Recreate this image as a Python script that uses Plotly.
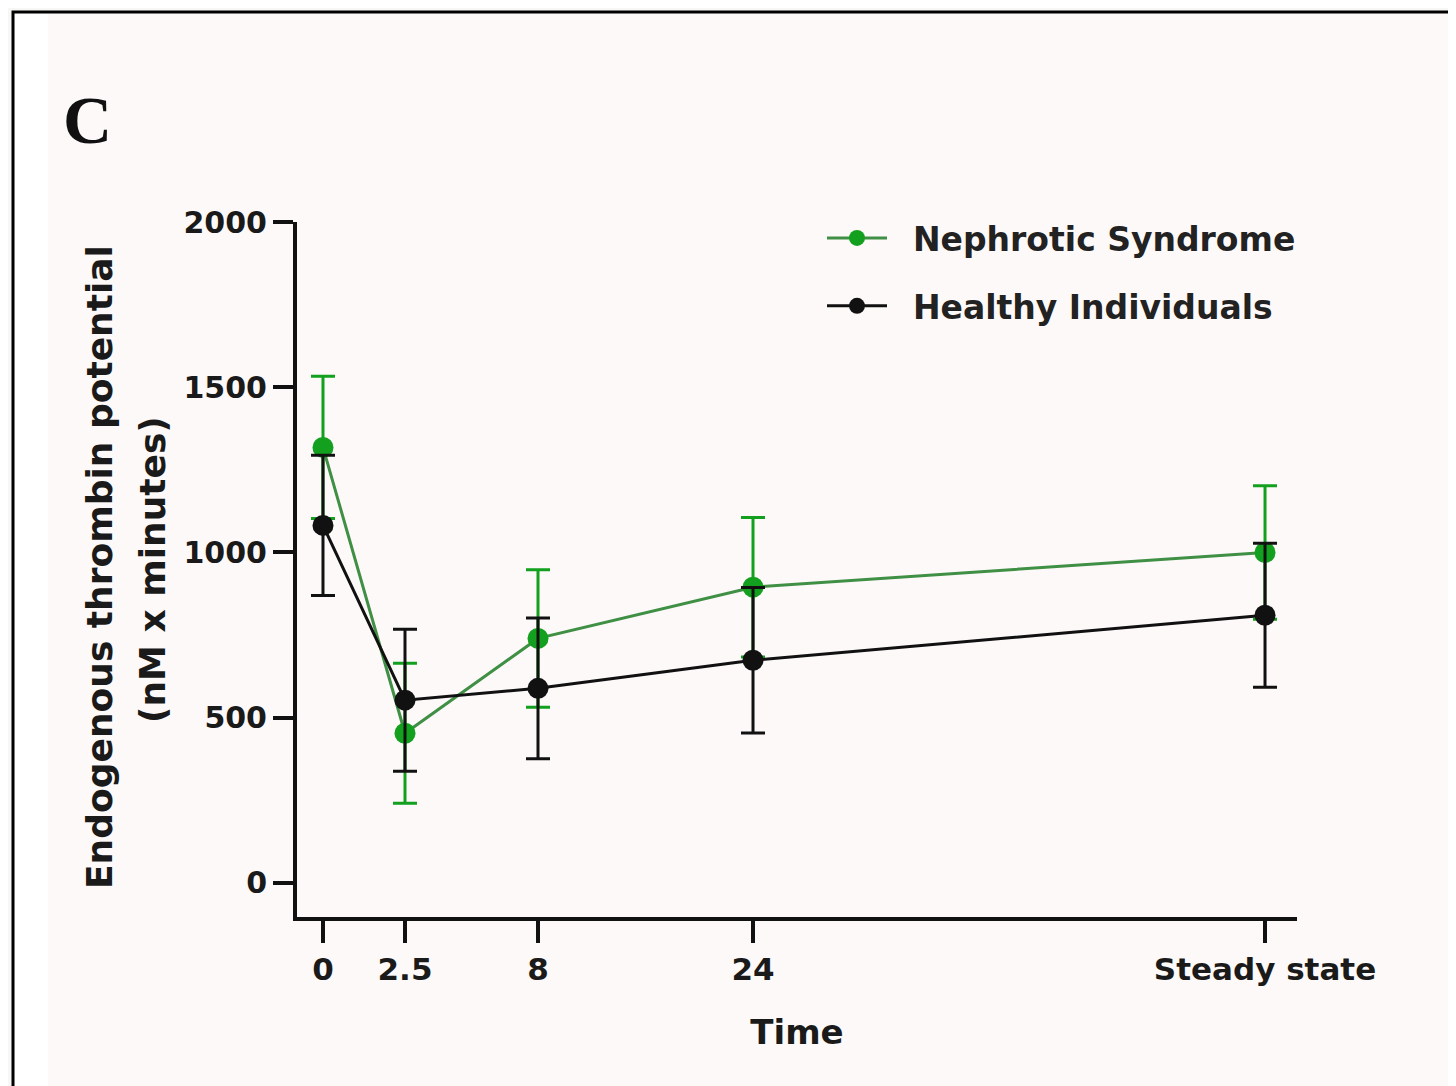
import plotly.graph_objects as go

# ---- data ----
time_labels = ["0", "2.5", "8", "24", "Steady state"]
time_axis_pos = [0, 1, 2.622, 5.244, 11.488]   # uneven spacing of the original x axis
ns_mean = [1318, 453, 740, 895, 1000]
ns_err = [215, 212, 208, 211, 202]
hi_mean = [1082, 553, 589, 674, 810]
hi_err = [212, 215, 213, 220, 218]
y_ticks = [0, 500, 1000, 1500, 2000]

GREEN = "#12a01e"
GREEN_LINE = "#3f8f45"
BLACK = "#111111"
FONT = "DejaVu Sans"

fig = go.Figure()
fig.add_trace(go.Scatter(
    x=time_axis_pos, y=ns_mean, name="&nbsp;&nbsp;<b>Nephrotic Syndrome</b>", legendgroup="ns",
    mode="lines+markers",
    line=dict(color=GREEN_LINE, width=3),
    marker=dict(symbol="circle", size=21, color=GREEN),
    error_y=dict(type="data", array=ns_err, visible=True, color=GREEN, thickness=3, width=12),
))
fig.add_trace(go.Scatter(
    x=time_axis_pos, y=hi_mean, name="&nbsp;&nbsp;<b>Healthy Individuals</b>", legendgroup="hi",
    mode="lines+markers",
    line=dict(color=BLACK, width=3),
    marker=dict(symbol="circle", size=21, color=BLACK),
    error_y=dict(type="data", array=hi_err, visible=True, color=BLACK, thickness=3, width=12),
))

def px_x(px):
    return (px - 297) / 1000.0

def px_y(py):
    return (917 - py) / 695.0

shapes = [
    dict(type="rect", xref="paper", yref="paper", layer="below",
         x0=px_x(13), x1=px_x(1520), y0=px_y(1120), y1=px_y(12),
         fillcolor="#fdf9f8", line=dict(color="black", width=3)),
    dict(type="rect", xref="paper", yref="paper", layer="below",
         x0=px_x(15), x1=px_x(48), y0=px_y(1120), y1=px_y(14),
         fillcolor="#ffffff", line=dict(width=0)),
]

annotations = [
    dict(text="<b>C</b>", xref="paper", yref="paper", x=px_x(87), y=px_y(120),
         showarrow=False, font=dict(family="Liberation Serif", size=68, color="#111"),
         xanchor="center", yanchor="middle"),
    dict(text="<b>Endogenous thrombin potential</b>", xref="paper", yref="paper",
         x=px_x(99), y=px_y(567), textangle=-90, showarrow=False,
         font=dict(family=FONT, size=36, color="#1a1a1a"),
         xanchor="center", yanchor="middle"),
    dict(text="<b>(nM x minutes)</b>", xref="paper", yref="paper",
         x=px_x(152), y=px_y(570), textangle=-90, showarrow=False,
         font=dict(family=FONT, size=36, color="#1a1a1a"),
         xanchor="center", yanchor="middle"),
]

fig.update_layout(
    width=1456, height=1086,
    margin=dict(l=289, r=167, t=214, b=177),
    paper_bgcolor="#f7f7f5",
    plot_bgcolor="rgba(0,0,0,0)",
    shapes=shapes,
    annotations=annotations,
    showlegend=True,
    legend=dict(
        x=px_x(822), y=px_y(210), xanchor="left", yanchor="top",
        bgcolor="rgba(0,0,0,0)",
        font=dict(family=FONT, size=33, color="#222"),
        traceorder="grouped", tracegroupgap=22,
        itemwidth=60,
    ),
    xaxis=dict(
        range=[-0.317, 11.878],
        tickmode="array", tickvals=time_axis_pos,
        ticktext=["<b>%s</b>" % t for t in time_labels],
        showline=True, linecolor=BLACK, linewidth=4,
        ticks="outside", ticklen=22, tickwidth=3.5, tickcolor=BLACK,
        showgrid=False, zeroline=False,
        tickfont=dict(family=FONT, size=31, color="#1a1a1a"),
        title=dict(text="<b>Time</b>", font=dict(family=FONT, size=34, color="#1a1a1a"), standoff=35),
    ),
    yaxis=dict(
        range=[-103, 2000],
        tickmode="array", tickvals=y_ticks,
        ticktext=["<b>%d</b>" % v for v in y_ticks],
        showline=True, linecolor=BLACK, linewidth=4,
        ticks="outside", ticklen=20, tickwidth=3.5, tickcolor=BLACK,
        showgrid=False, zeroline=False,
        ticklabelstandoff=0,
        tickfont=dict(family=FONT, size=30, color="#1a1a1a"),
    ),
)

fig.write_html("out.html")
